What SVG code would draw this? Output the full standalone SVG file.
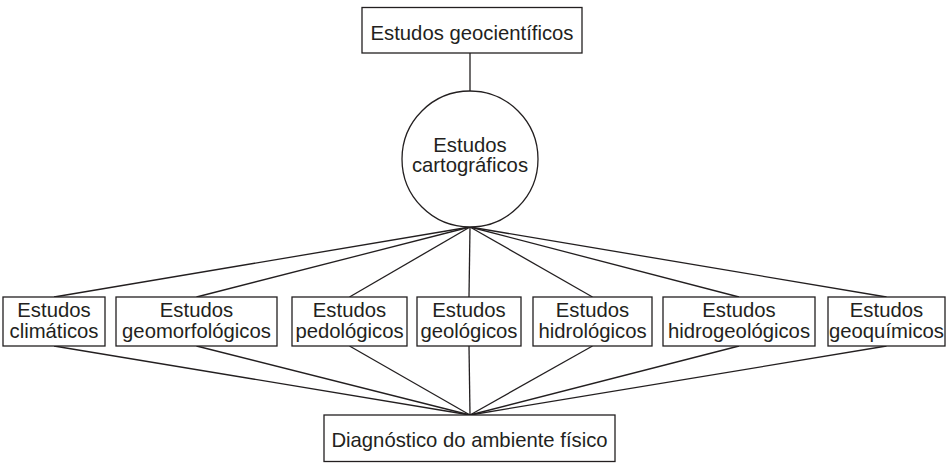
<svg xmlns="http://www.w3.org/2000/svg" width="952" height="463" viewBox="0 0 952 463">
<style>
.box{fill:#fff;stroke:#231f20;stroke-width:1.3}
.ln{stroke:#231f20;stroke-width:1.3;fill:none}
text{font-family:"Liberation Sans",Arial,sans-serif;font-size:20.3px;fill:#231f20;text-anchor:middle}
</style>
<rect width="952" height="463" fill="#fff"/>
<g id="connectors">
<line class="ln" x1="470" y1="53" x2="470" y2="91"/>
<line class="ln" x1="470" y1="227" x2="54" y2="297"/>
<line class="ln" x1="470" y1="227" x2="196.5" y2="297"/>
<line class="ln" x1="470" y1="227" x2="349.5" y2="297"/>
<line class="ln" x1="470" y1="227" x2="469" y2="297"/>
<line class="ln" x1="470" y1="227" x2="592.5" y2="297"/>
<line class="ln" x1="470" y1="227" x2="739" y2="297"/>
<line class="ln" x1="470" y1="227" x2="886.5" y2="297"/>
<line class="ln" x1="54" y1="346" x2="470" y2="415"/>
<line class="ln" x1="196.5" y1="346" x2="470" y2="415"/>
<line class="ln" x1="349.5" y1="346" x2="470" y2="415"/>
<line class="ln" x1="469" y1="346" x2="470" y2="415"/>
<line class="ln" x1="592.5" y1="346" x2="470" y2="415"/>
<line class="ln" x1="739" y1="346" x2="470" y2="415"/>
<line class="ln" x1="886.5" y1="346" x2="470" y2="415"/>
</g>
<g id="geocientificos">
<rect class="box" x="362" y="7.5" width="220" height="45.5"/>
<text x="472" y="40">Estudos geocientíficos</text>
</g>
<g id="cartograficos">
<circle class="box" cx="470" cy="159" r="68"/>
<text x="470" y="152">Estudos</text>
<text x="470" y="172">cartográficos</text>
</g>
<g id="climaticos">
<rect class="box" x="3" y="297" width="102" height="49"/>
<text x="54" y="317">Estudos</text>
<text x="54" y="338">climáticos</text>
</g>
<g id="geomorfologicos">
<rect class="box" x="116" y="297" width="161" height="49"/>
<text x="196.5" y="317">Estudos</text>
<text x="196.5" y="338">geomorfológicos</text>
</g>
<g id="pedologicos">
<rect class="box" x="292" y="297" width="115" height="49"/>
<text x="349.5" y="317">Estudos</text>
<text x="349.5" y="338">pedológicos</text>
</g>
<g id="geologicos">
<rect class="box" x="417" y="297" width="104" height="49"/>
<text x="469" y="317">Estudos</text>
<text x="469" y="338">geológicos</text>
</g>
<g id="hidrologicos">
<rect class="box" x="533" y="297" width="119" height="49"/>
<text x="592.5" y="317">Estudos</text>
<text x="592.5" y="338">hidrológicos</text>
</g>
<g id="hidrogeologicos">
<rect class="box" x="663" y="297" width="152" height="49"/>
<text x="739" y="317">Estudos</text>
<text x="739" y="338">hidrogeológicos</text>
</g>
<g id="geoquimicos">
<rect class="box" x="828" y="297" width="117" height="49"/>
<text x="886.5" y="317">Estudos</text>
<text x="886.5" y="338">geoquímicos</text>
</g>
<g id="diagnostico">
<rect class="box" x="324" y="415" width="291" height="46.5"/>
<text x="469.5" y="447">Diagnóstico do ambiente físico</text>
</g>
</svg>
